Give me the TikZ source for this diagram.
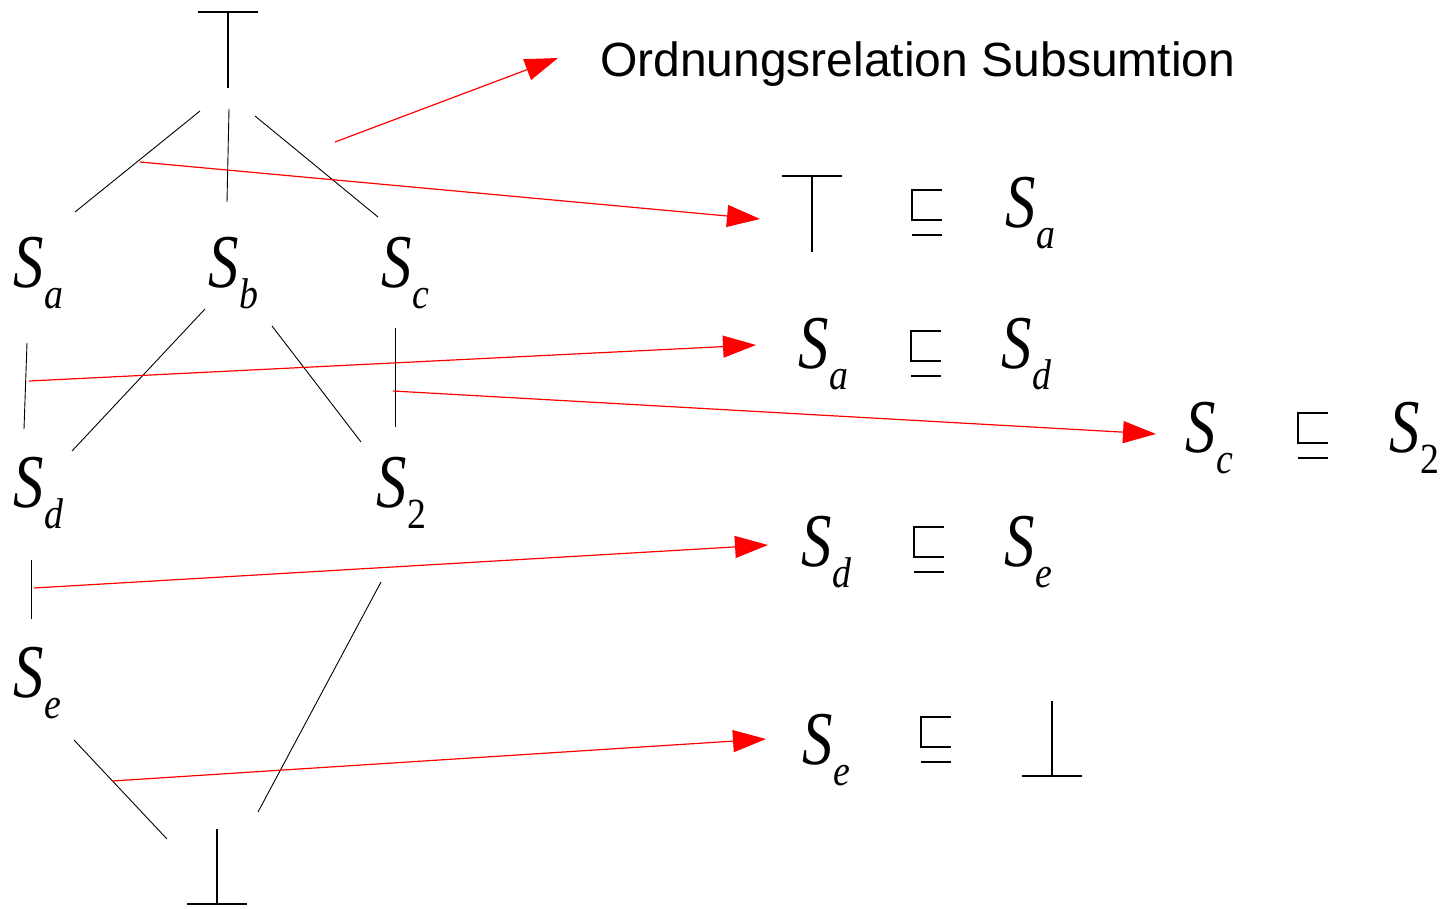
\documentclass[tikz,border=0pt]{standalone}
\usepackage{fontspec}
\usepackage{graphicx}
\setmainfont{Liberation Sans}
\newfontfamily\Sfont{Liberation Serif}
\usetikzlibrary{arrows.meta}
\newcommand{\SL}[1]{\scalebox{0.8}[1]{\Sfont\itshape\fontsize{76}{76}\selectfont S}\kern1.5pt\raisebox{-21pt}{\scalebox{0.88}[1]{\Sfont\itshape\fontsize{43}{43}\selectfont #1}}}
\newcommand{\SLn}[1]{\scalebox{0.8}[1]{\Sfont\itshape\fontsize{76}{76}\selectfont S}\kern1.5pt\raisebox{-21pt}{\scalebox{0.88}[1]{\Sfont\fontsize{43}{43}\selectfont #1}}}
\tikzset{
  lab/.style={inner sep=0pt, outer sep=0pt, anchor=base west},
  tl/.style={draw=black, line width=0.9pt},
  symline/.style={draw=black, line width=2.5pt, line cap=butt, line join=miter},
  rl/.style={draw=red, line width=1.2pt, -{Triangle[length=33pt,width=22pt]}},
  topsym/.pic={\draw[symline] (-30,0) -- (30,0); \draw[symline] (0,0) -- (0,76);},
  botsym/.pic={\draw[symline] (0,0) -- (0,75); \draw[symline] (-30,75) -- (30,75);},
  sqs/.pic={\draw[symline, line width=2.3pt] (30,0) -- (0,0) -- (0,30) -- (30,30); \draw[symline, line width=2.3pt] (0,45) -- (30,45);}
}
\begin{document}
\begin{tikzpicture}[x=1pt,y=-1pt]
\useasboundingbox (0,0) rectangle (1446,908);
% tree symbols
\pic at (228,12) {topsym};
\pic at (217,829) {botsym};
% tree labels
\node[lab] (sa) at (13,287) {\SL{a}};
\node[lab] (sb) at (208,287) {\SL{b}};
\node[lab] (sc) at (381,287) {\SL{c}};
\node[lab] (sd) at (13,507) {\SL{d}};
\node[lab] (s2) at (376,507) {\SLn{2}};
\node[lab] (se) at (13,697) {\SL{e}};
% tree edge endpoints
\coordinate (t1) at (200,111); \coordinate (t1e) at (75,212);
\coordinate (t2) at (229,109); \coordinate (t2e) at (227,202);
\coordinate (t3) at (255,116); \coordinate (t3e) at (378,217);
\coordinate (ad) at (27,343);  \coordinate (ade) at (24,429);
\coordinate (bd) at (205,309); \coordinate (bde) at (72,451);
\coordinate (b2) at (272,326); \coordinate (b2e) at (361,442);
\coordinate (c2) at (395,328); \coordinate (c2e) at (395,427);
\coordinate (de) at (31,560);  \coordinate (dee) at (31,619);
\coordinate (2b) at (381,582); \coordinate (2be) at (258,812);
\coordinate (eb) at (74,740);  \coordinate (ebe) at (167,839);
\draw[tl] (t1) -- (t1e);
\draw[tl] (t2) -- (t2e);
\draw[tl] (t3) -- (t3e);
\draw[tl] (ad) -- (ade);
\draw[tl] (bd) -- (bde);
\draw[tl] (b2) -- (b2e);
\draw[tl] (c2) -- (c2e);
\draw[tl] (de) -- (dee);
\draw[tl] (2b) -- (2be);
\draw[tl] (eb) -- (ebe);
% title
\node[inner sep=0pt, anchor=base west, font=\fontsize{48}{48}\selectfont] (title) at (600,76) {Ordnungsrelation Subsumtion};
% right-hand relations
\pic at (812,176) {topsym};
\pic at (912,190) {sqs};
\node[lab] (r1b) at (1005,227) {\SL{a}};
\node[lab] (r2a) at (798,368) {\SL{a}};
\pic at (911,331) {sqs};
\node[lab] (r2b) at (1001,368) {\SL{d}};
\node[lab] (r3a) at (1185,452) {\SL{c}};
\pic at (1298,413) {sqs};
\node[lab] (r3b) at (1389,452) {\SLn{2}};
\node[lab] (r4a) at (801,566) {\SL{d}};
\pic at (914,527) {sqs};
\node[lab] (r4b) at (1004,566) {\SL{e}};
\node[lab] (r5a) at (802,764) {\SL{e}};
\pic at (921,717) {sqs};
\pic at (1052,701) {botsym};
% red arrows
\coordinate (a0s) at (335,142); \coordinate (a0e) at (558,58);
\coordinate (a1s) at (140,162); \coordinate (a1e) at (760,219);
\coordinate (a2s) at (29,381);  \coordinate (a2e) at (756,345);
\coordinate (a3s) at (393,391); \coordinate (a3e) at (1156,434);
\coordinate (a4s) at (34,588);  \coordinate (a4e) at (768,545);
\coordinate (a5s) at (112,781); \coordinate (a5e) at (766,739);
\draw[rl] (a0s) -- (a0e);
\draw[rl] (a1s) -- (a1e);
\draw[rl] (a2s) -- (a2e);
\draw[rl] (a3s) -- (a3e);
\draw[rl] (a4s) -- (a4e);
\draw[rl] (a5s) -- (a5e);
\end{tikzpicture}
\end{document}
